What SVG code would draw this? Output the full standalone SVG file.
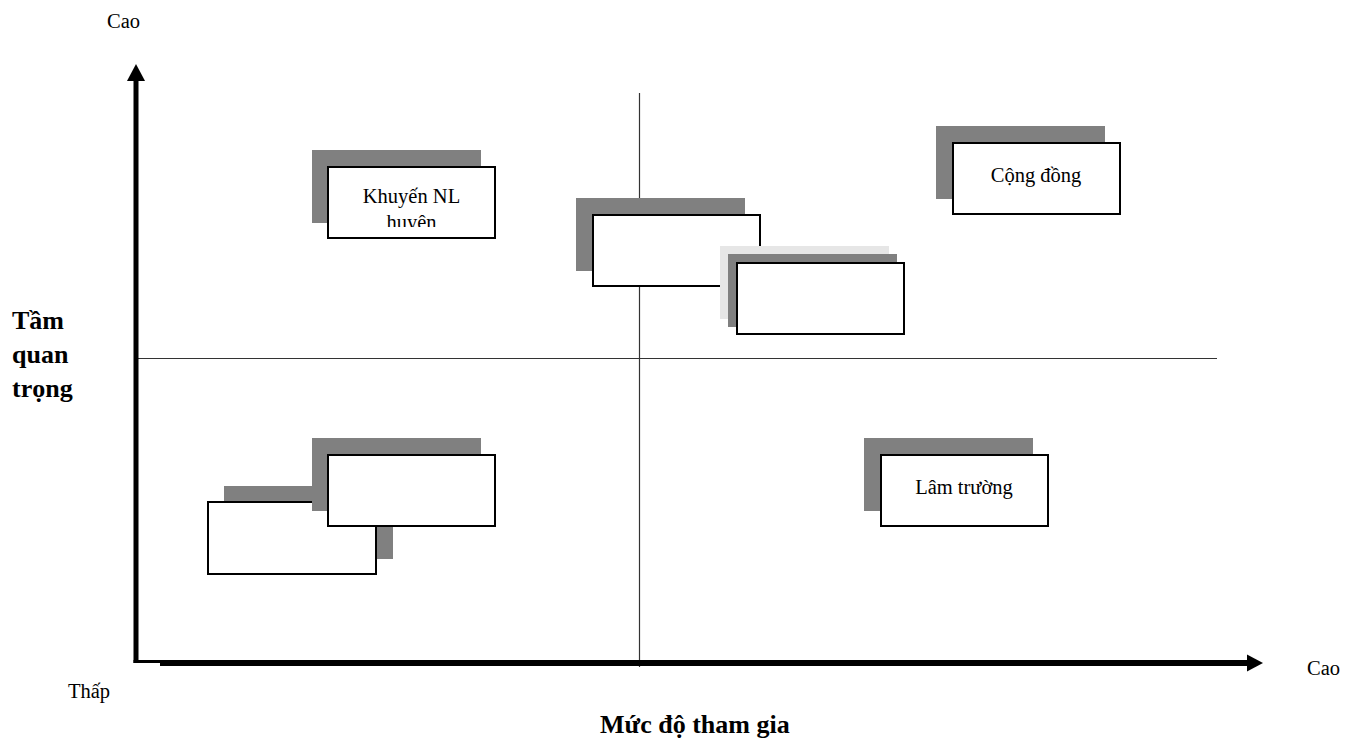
<svg xmlns="http://www.w3.org/2000/svg" width="1357" height="740" viewBox="0 0 1357 740">
  <style>
    .lbl { font-family: "Liberation Serif", "Times New Roman", serif; font-size: 20.5px; fill: #000; }
    .ttl { font-family: "Liberation Serif", "Times New Roman", serif; font-size: 26px; font-weight: bold; fill: #000; }
    .shadow { fill: #808080; }
    .shadow-light { fill: #e6e6e6; }
    .box { fill: #fff; stroke: #000; stroke-width: 2; }
    .grid { stroke: #333; stroke-width: 1.2; fill: none; }
    .axis { fill: #000; }
  </style>
  <defs>
    <clipPath id="clip-khuyen">
      <rect x="328" y="167" width="167" height="60"/>
    </clipPath>
  </defs>

  <rect width="1357" height="740" fill="#fff"/>

  <!-- quadrant dividers and axes -->
  <g id="connectors">
    <line class="grid" x1="639.5" y1="93" x2="639.5" y2="667"/>
    <line class="grid" x1="138" y1="358.5" x2="1217" y2="358.5"/>
    <!-- vertical axis -->
    <rect class="axis" x="133.5" y="80" width="5" height="583"/>
    <polygon class="axis" points="127,81 145,81 136,64"/>
    <!-- horizontal axis -->
    <rect class="axis" x="133.5" y="660" width="27" height="3"/>
    <rect class="axis" x="160" y="660" width="1088" height="6"/>
    <polygon class="axis" points="1247,654.5 1247,671.5 1263,663"/>
  </g>

  <!-- axis labels -->
  <g id="axis-labels">
    <text class="lbl" x="107" y="28">Cao</text>
    <text class="lbl" x="1307" y="675">Cao</text>
    <text class="lbl" x="68" y="698">Thấp</text>
    <text class="ttl" x="12" y="329">Tầm</text>
    <text class="ttl" x="12" y="363">quan</text>
    <text class="ttl" x="12" y="397">trọng</text>
    <text class="ttl" x="600" y="733">Mức độ tham gia</text>
  </g>

  <!-- stakeholder boxes -->
  <g id="node-khuyen-nl">
    <rect class="shadow" x="312" y="150" width="169" height="73"/>
    <rect class="box" x="328" y="167" width="167" height="71"/>
    <g clip-path="url(#clip-khuyen)">
      <text class="lbl" x="411.5" y="203" text-anchor="middle">Khuyến NL</text>
      <text class="lbl" x="411.5" y="229" text-anchor="middle">huyện</text>
    </g>
  </g>

  <g id="node-center-1">
    <rect class="shadow" x="576" y="198" width="169" height="73"/>
    <rect class="box" x="593" y="215" width="167" height="71"/>
  </g>

  <g id="node-center-2">
    <rect class="shadow-light" x="720" y="246" width="169" height="73"/>
    <rect class="shadow" x="728" y="254" width="169" height="73"/>
    <rect class="box" x="737" y="263" width="167" height="71"/>
  </g>

  <g id="node-cong-dong">
    <rect class="shadow" x="936" y="126" width="169" height="73"/>
    <rect class="box" x="953" y="143" width="167" height="71"/>
    <text class="lbl" x="1036" y="182" text-anchor="middle">Cộng đồng</text>
  </g>

  <g id="node-lower-left-1">
    <rect class="shadow" x="224" y="486" width="169" height="73"/>
    <rect class="box" x="208" y="502" width="168" height="72"/>
  </g>

  <g id="node-lower-left-2">
    <rect class="shadow" x="312" y="438" width="169" height="73"/>
    <rect class="box" x="328" y="455" width="167" height="71"/>
  </g>

  <g id="node-lam-truong">
    <rect class="shadow" x="864" y="438" width="169" height="73"/>
    <rect class="box" x="881" y="455" width="167" height="71"/>
    <text class="lbl" x="964" y="494" text-anchor="middle">Lâm trường</text>
  </g>
</svg>
